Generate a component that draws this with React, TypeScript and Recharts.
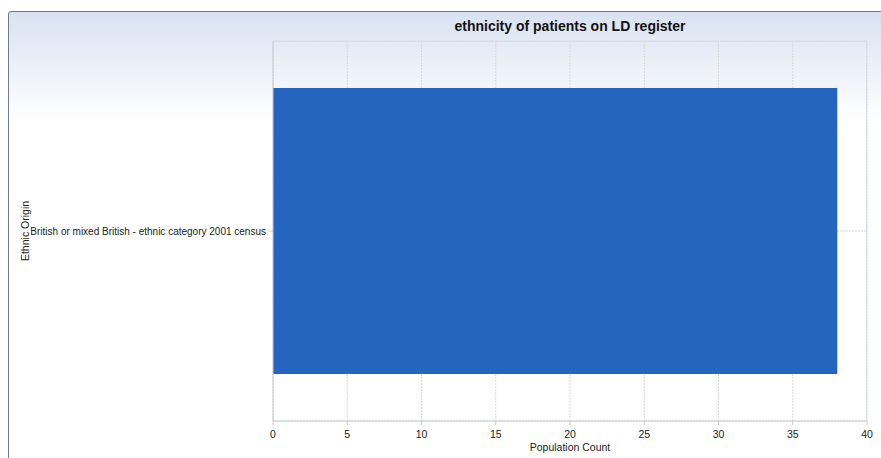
import { BarChart, Bar, XAxis, YAxis, CartesianGrid } from 'recharts';

const categories = ['British or mixed British - ethnic category 2001 census'];
const counts = [38];
const majorTicks = [0, 5, 10, 15, 20, 25, 30, 35, 40];
const minorTicks = [
    0, 1, 2, 3, 4, 5, 6, 7, 8, 9, 10, 11, 12, 13, 14, 15, 16, 17, 18, 19, 20,
    21, 22, 23, 24, 25, 26, 27, 28, 29, 30, 31, 32, 33, 34, 35, 36, 37, 38, 39, 40,
];

const FONT = "'Liberation Sans', Arial, sans-serif";

const data = categories.map((name, i) => ({ name, value: counts[i] }));

// single-line category label (default tick wraps long text)
function CategoryTick({ x, y, payload }: any) {
    return (
        <text x={x} y={y} textAnchor="end" dominantBaseline="central" fontSize={10} fill="#222" fontFamily={FONT}>
            {payload.value}
        </text>
    );
}

export default function App() {
    return (
        <div style={{ position: 'absolute', left: 0, top: 0, width: 881, height: 458, background: '#fff', overflow: 'hidden', fontFamily: FONT }}>
            <div
                style={{
                    position: 'absolute',
                    left: 8,
                    top: 11,
                    width: 880,
                    height: 460,
                    border: '1px solid #6f7b8b',
                    borderTopLeftRadius: 3,
                    borderTopRightRadius: 3,
                    background: 'linear-gradient(to bottom, #d9e2f2 0px, #eef2f9 60px, #ffffff 110px, #ffffff 100%)',
                }}
            />
            <div style={{ position: 'absolute', left: 0, top: 0 }}>
                <BarChart
                    width={881}
                    height={458}
                    data={data}
                    layout="vertical"
                    margin={{ top: 41, right: 14, bottom: 7, left: 8 }}
                >
                    <text x={570} y={31} textAnchor="middle" fontFamily={FONT} fontWeight="bold" fontSize={14} fill="#111">
                        ethnicity of patients on LD register
                    </text>
                    <CartesianGrid stroke="#d6d8dc" strokeDasharray="2 1" />
                    <XAxis
                        xAxisId="minor"
                        type="number"
                        domain={[0, 40]}
                        ticks={minorTicks}
                        height={0}
                        tick={() => <g />}
                        axisLine={false}
                        tickLine={{ stroke: '#c5cad2' }}
                        tickSize={3}
                    />
                    <XAxis
                        type="number"
                        domain={[0, 40]}
                        ticks={majorTicks}
                        height={30}
                        tickSize={4}
                        tickMargin={6}
                        axisLine={{ stroke: '#c5cad2' }}
                        tickLine={{ stroke: '#c5cad2' }}
                        tick={{ fontSize: 10.5, fill: '#222', fontFamily: FONT }}
                        label={{ value: 'Population Count', position: 'insideBottom', offset: 0, fontSize: 10.5, fill: '#222', fontFamily: FONT }}
                    />
                    <YAxis
                        type="category"
                        dataKey="name"
                        width={265}
                        tickSize={5}
                        tickMargin={2}
                        axisLine={{ stroke: '#c5cad2' }}
                        tickLine={{ stroke: '#c5cad2' }}
                        tick={<CategoryTick />}
                        label={{
                            content: ({ viewBox }: any) => {
                                const cx = viewBox.x + 17;
                                const cy = viewBox.y + viewBox.height / 2;
                                return (
                                    <text x={cx} y={cy} transform={`rotate(-90 ${cx} ${cy})`} textAnchor="middle" dominantBaseline="central" fontSize={10.5} fill="#222" fontFamily={FONT}>
                                        Ethnic Origin
                                    </text>
                                );
                            },
                        }}
                    />
                    <Bar dataKey="value" fill="#2565c0" barSize={286} isAnimationActive={false} />
                </BarChart>
            </div>
            <div style={{ position: 'absolute', left: 273, top: 41, width: 594, height: 380, borderTop: '1px solid #d9dee6', borderRight: '1px solid #d9dee6', boxSizing: 'border-box', pointerEvents: 'none' }} />
        </div>
    );
}
